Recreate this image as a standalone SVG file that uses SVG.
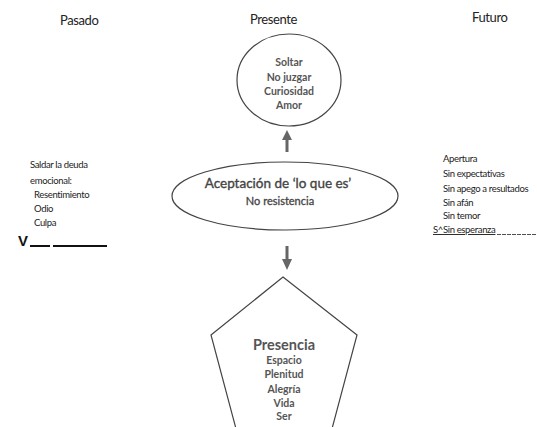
<svg xmlns="http://www.w3.org/2000/svg" width="537" height="427" viewBox="0 0 537 427">
<style>
.hdr{font-family:Lato,"Open Sans",sans-serif;font-size:13px;fill:#222;letter-spacing:-0.4px}
.side{font-family:Lato,"Open Sans",sans-serif;font-size:9.5px;fill:#222;letter-spacing:-0.35px}
.c{font-family:Lato,"Open Sans",sans-serif;font-weight:bold;fill:#555;text-anchor:middle}
.shape{fill:#fff;stroke:#444;stroke-width:1.2}
.arrow{fill:#666}
</style>
<rect width="537" height="427" fill="#fff"/>
<g id="headers">
<text class="hdr" x="60" y="25">Pasado</text>
<text class="hdr" x="250" y="24">Presente</text>
<text class="hdr" x="472" y="22">Futuro</text>
</g>
<g id="connectors">
<path class="arrow" d="M285.5,152 L285.5,140 L282,140 L287,130 L292,140 L288.5,140 L288.5,152 Z"/>
<path class="arrow" d="M285.5,246 L288.5,246 L288.5,259 L292,259 L287,270 L282,259 L285.5,259 Z"/>
</g>
<g id="circle-node">
<ellipse class="shape" cx="289" cy="80" rx="52" ry="46"/>
<text class="c" font-size="10.5" x="289" y="66">Soltar</text>
<text class="c" font-size="10.5" x="289" y="81">No juzgar</text>
<text class="c" font-size="10.5" x="289" y="95">Curiosidad</text>
<text class="c" font-size="10.5" x="289" y="109">Amor</text>
</g>
<g id="ellipse-node">
<ellipse class="shape" cx="285" cy="196" rx="113" ry="34"/>
<text class="c" font-size="13.5" x="278" y="188" style="font-weight:normal;fill:#444;stroke:#444;stroke-width:0.35">Aceptación de ‘lo que es’</text>
<text class="c" font-size="11" x="280" y="205" style="font-weight:normal;fill:#444;stroke:#444;stroke-width:0.3">No resistencia</text>
</g>
<g id="pentagon-node">
<polygon class="shape" points="283,277 357,335 329,440 239,440 211,335"/>
<text class="c" font-size="14.5" x="284" y="350">Presencia</text>
<text class="c" font-size="10.5" x="284" y="364">Espacio</text>
<text class="c" font-size="10.5" x="284" y="378">Plenitud</text>
<text class="c" font-size="10.5" x="284" y="392.5">Alegría</text>
<text class="c" font-size="10.5" x="284" y="406.5">Vida</text>
<text class="c" font-size="10.5" x="284" y="420">Ser</text>
</g>
<g id="pasado-text">
<text class="side" x="30" y="168">Saldar la deuda</text>
<text class="side" x="30" y="184">emocional:</text>
<text class="side" x="34" y="198">Resentimiento</text>
<text class="side" x="34" y="212">Odio</text>
<text class="side" x="34" y="226">Culpa</text>
<text x="18" y="246" style="font-family:'Liberation Sans',sans-serif;font-weight:bold;font-size:15px;fill:#111">V</text>
<line x1="30" y1="246" x2="50" y2="246" stroke="#111" stroke-width="2"/>
<line x1="53" y1="246" x2="107" y2="246" stroke="#111" stroke-width="2"/>
</g>
<g id="futuro-text">
<text class="side" x="443" y="162">Apertura</text>
<text class="side" x="443" y="177">Sin expectativas</text>
<text class="side" x="443" y="192">Sin apego a resultados</text>
<text class="side" x="443" y="206">Sin afán</text>
<text class="side" x="443" y="219">Sin temor</text>
<text class="side" x="433" y="233" style="text-decoration:underline">S^Sin esperanza</text>
<line x1="497" y1="234.5" x2="537" y2="234.5" stroke="#222" stroke-width="0.8" stroke-dasharray="4,1"/>
</g>
</svg>
